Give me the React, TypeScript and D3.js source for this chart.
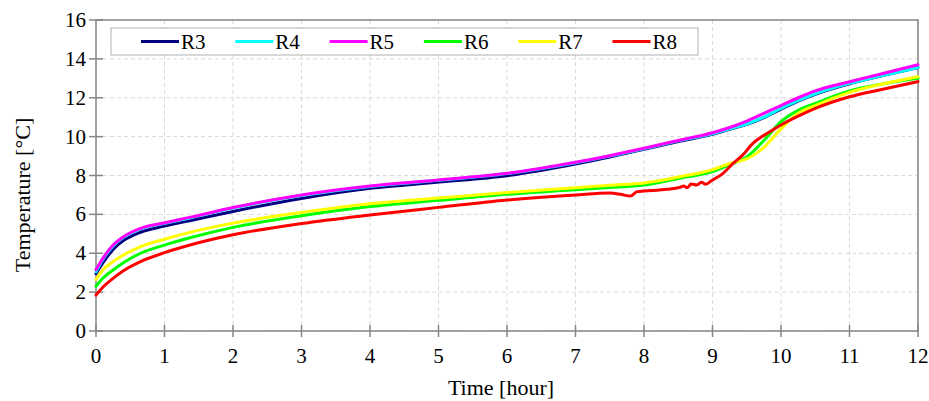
import React from "react";
import * as d3 from "d3";

const seriesNames = ["R3", "R4", "R5", "R6", "R7", "R8"];
const seriesColors = ["#000080", "#00ffff", "#ff00ff", "#00ff00", "#ffff00", "#ff0000"];

const timesCommon = [0, 0.1, 0.25, 0.4, 0.65, 1, 1.4, 2, 3, 4, 5, 6, 7, 7.5, 8, 8.5, 9, 9.25, 9.5, 9.75, 10, 10.25, 10.5, 11, 11.5, 12];

const r3Values = [2.95, 3.5, 4.2, 4.65, 5.08, 5.4, 5.7, 6.15, 6.82, 7.34, 7.66, 7.99, 8.59, 8.95, 9.35, 9.75, 10.12, 10.38, 10.63, 10.98, 11.42, 11.83, 12.18, 12.72, 13.15, 13.55];
const r4Values = [3.05, 3.68, 4.38, 4.82, 5.25, 5.54, 5.84, 6.33, 6.97, 7.44, 7.75, 8.1, 8.66, 9.0, 9.38, 9.78, 10.15, 10.4, 10.65, 11.0, 11.45, 11.85, 12.2, 12.74, 13.15, 13.55];
const r5Values = [3.15, 3.74, 4.42, 4.85, 5.28, 5.57, 5.87, 6.35, 7.0, 7.46, 7.77, 8.11, 8.68, 9.02, 9.4, 9.8, 10.2, 10.47, 10.8, 11.2, 11.6, 12.0, 12.35, 12.82, 13.26, 13.7];
const r6Values = [2.3, 2.71, 3.14, 3.51, 4.0, 4.42, 4.82, 5.33, 5.93, 6.4, 6.72, 7.03, 7.27, 7.38, 7.51, 7.85, 8.2, 8.55, 8.95, 9.8, 10.77, 11.35, 11.71, 12.35, 12.72, 13.0];
const r7Values = [2.65, 3.14, 3.57, 3.91, 4.34, 4.72, 5.1, 5.55, 6.1, 6.55, 6.84, 7.12, 7.37, 7.5, 7.62, 7.92, 8.3, 8.62, 8.85, 9.45, 10.4, 11.2, 11.6, 12.28, 12.72, 13.08];

const timesR8 = [0, 0.1, 0.25, 0.4, 0.65, 1, 1.4, 2, 3, 4, 5, 6, 7, 7.5, 7.66, 7.8, 7.9, 8, 8.34, 8.52, 8.58, 8.63, 8.69, 8.77, 8.84, 8.9, 9, 9.15, 9.3, 9.44, 9.59, 9.7, 9.8, 10, 10.25, 10.5, 11, 11.5, 12];
const r8Values = [1.85, 2.25, 2.71, 3.1, 3.57, 4.03, 4.45, 4.95, 5.53, 5.97, 6.36, 6.74, 7.0, 7.1, 7.03, 6.94, 7.17, 7.2, 7.29, 7.39, 7.46, 7.37, 7.56, 7.51, 7.65, 7.55, 7.77, 8.1, 8.62, 9.05, 9.65, 9.95, 10.17, 10.6, 11.05, 11.45, 12.05, 12.45, 12.83];

const xTicks = [0, 1, 2, 3, 4, 5, 6, 7, 8, 9, 10, 11, 12];
const yTicks = [0, 2, 4, 6, 8, 10, 12, 14, 16];

const xTitle = "Time [hour]";
const yTitle = "Temperature [°C]";

const W = 929;
const H = 401;
const left = 96;
const right = 918;
const top = 20;
const bottom = 331;
const FONT = "Liberation Serif, Times New Roman, Times, serif";

export default function App() {
  const x = d3.scaleLinear().domain([0, 12]).range([left, right]);
  const y = d3.scaleLinear().domain([0, 16]).range([bottom, top]);

  const seriesData = [
    timesCommon.map((t, i) => [t, r3Values[i]]),
    timesCommon.map((t, i) => [t, r4Values[i]]),
    timesCommon.map((t, i) => [t, r5Values[i]]),
    timesCommon.map((t, i) => [t, r6Values[i]]),
    timesCommon.map((t, i) => [t, r7Values[i]]),
    timesR8.map((t, i) => [t, r8Values[i]]),
  ];

  const line = d3
    .line<number[]>()
    .x((d) => x(d[0]))
    .y((d) => y(d[1]))
    .curve(d3.curveMonotoneX);

  const axisColor = "#868686";
  const gridColor = "#d9d9d9";

  const legendX0 = 111;
  const legendY0 = 28;
  const legendW = 587;
  const legendH = 27;
  const legendStep = 94.3;

  const textStyle = { fontFamily: FONT };

  return (
    <svg
      width={W}
      height={H}
      style={{ position: "absolute", left: 0, top: 0, background: "#fff", fontFamily: FONT }}
    >
      <rect x={0} y={0} width={W} height={H} fill="#fff" />
      {xTicks.map((t) => (
        <line
          key={"gx" + t}
          x1={x(t)}
          x2={x(t)}
          y1={top}
          y2={bottom}
          stroke={gridColor}
          strokeWidth={1}
          strokeDasharray="4,3"
        />
      ))}
      {yTicks.map((v) => (
        <line
          key={"gy" + v}
          x1={left}
          x2={right}
          y1={y(v)}
          y2={y(v)}
          stroke={gridColor}
          strokeWidth={1}
          strokeDasharray="4,3"
        />
      ))}
      <rect
        x={left}
        y={top}
        width={right - left}
        height={bottom - top}
        fill="none"
        stroke={axisColor}
        strokeWidth={1.5}
      />
      {xTicks.map((t) => (
        <line key={"tx" + t} x1={x(t)} x2={x(t)} y1={bottom - 6} y2={bottom + 6} stroke={axisColor} strokeWidth={1.5} />
      ))}
      {yTicks.map((v) => (
        <line key={"ty" + v} x1={left - 7} x2={left + 7} y1={y(v)} y2={y(v)} stroke={axisColor} strokeWidth={1.5} />
      ))}
      {seriesData.map((d, i) => (
        <path
          key={seriesNames[i]}
          d={line(d as number[][]) || ""}
          fill="none"
          stroke={seriesColors[i]}
          strokeWidth={3}
          strokeLinejoin="round"
          strokeLinecap="round"
        />
      ))}
      {xTicks.map((t) => (
        <text key={"lx" + t} x={x(t)} y={363} textAnchor="middle" fontSize={21} fill="#000" style={textStyle}>
          {t}
        </text>
      ))}
      {yTicks.map((v) => (
        <text key={"ly" + v} x={86} y={y(v) + 7} textAnchor="end" fontSize={21} fill="#000" style={textStyle}>
          {v}
        </text>
      ))}
      <text x={501} y={395} textAnchor="middle" fontSize={22} fill="#000" style={textStyle}>
        {xTitle}
      </text>
      <text
        transform={`translate(30,195) rotate(-90)`}
        textAnchor="middle"
        fontSize={22}
        fill="#000"
        style={textStyle}
      >
        {yTitle}
      </text>
      <rect
        x={legendX0}
        y={legendY0}
        width={legendW}
        height={legendH}
        fill="#fff"
        stroke="#b0b0b0"
        strokeWidth={1}
      />
      {seriesNames.map((name, i) => {
        const lx = legendX0 + 30 + i * legendStep;
        const ly = legendY0 + legendH / 2;
        return (
          <g key={"lg" + name}>
            <line x1={lx} x2={lx + 38} y1={ly} y2={ly} stroke={seriesColors[i]} strokeWidth={3} />
            <text x={lx + 40} y={ly + 7} fontSize={21} fill="#000" style={textStyle}>
              {name}
            </text>
          </g>
        );
      })}
    </svg>
  );
}
